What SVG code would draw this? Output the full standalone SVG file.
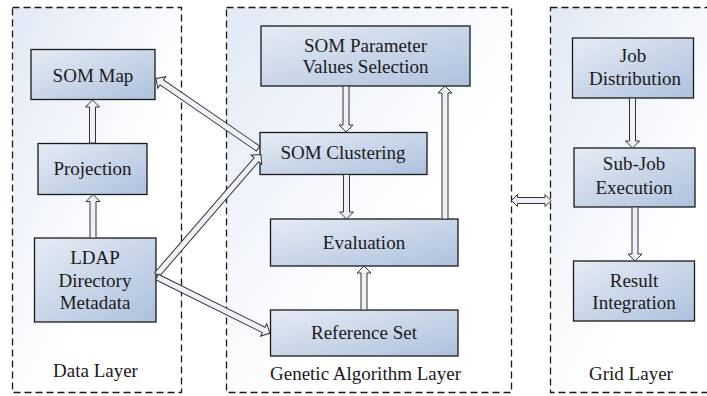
<svg xmlns="http://www.w3.org/2000/svg" width="707" height="396" viewBox="0 0 707 396">
<defs>
<linearGradient id="gLayer" x1="0" y1="0" x2="1" y2="1">
<stop offset="0" stop-color="#e2e9f5"/>
<stop offset="0.6" stop-color="#ffffff"/>
</linearGradient>
<linearGradient id="gNode" x1="0" y1="0" x2="1" y2="1">
<stop offset="0" stop-color="#e6ecf5"/>
<stop offset="1" stop-color="#adc1dd"/>
</linearGradient>
<style>
.layer{fill:url(#gLayer);stroke:#1a1a1a;stroke-width:1.3;stroke-dasharray:7 4}
.node{fill:url(#gNode);stroke:#1a1a1a;stroke-width:1.3}
.t{font-family:"Liberation Serif","Times New Roman",serif;font-size:19px;fill:#1a1a1a;text-anchor:middle}
.arr{fill:#eef2f8;stroke:#333;stroke-width:1}
</style>
</defs>
<rect width="707" height="396" fill="#ffffff"/>
<g id="data-layer">
<rect class="layer" x="12.5" y="7.5" width="169" height="385"/>
<text class="t" x="95.5" y="377">Data Layer</text>
</g>
<g id="ga-layer">
<rect class="layer" x="226.5" y="7.5" width="285" height="385"/>
<text class="t" x="365.5" y="380">Genetic Algorithm Layer</text>
</g>
<g id="grid-layer">
<rect class="layer" x="550.5" y="7.5" width="200" height="385"/>
<text class="t" x="631" y="380">Grid Layer</text>
</g>
<g id="som-map">
<rect class="node" x="31" y="49.5" width="124" height="50"/>
<text class="t" x="93" y="82">SOM Map</text>
</g>
<g id="projection">
<rect class="node" x="38" y="143.5" width="109" height="51"/>
<text class="t" x="92.5" y="175">Projection</text>
</g>
<g id="ldap">
<rect class="node" x="34.5" y="238" width="121.5" height="84"/>
<text class="t" x="95" y="264">LDAP</text>
<text class="t" x="95" y="286.5">Directory</text>
<text class="t" x="95" y="308.5">Metadata</text>
</g>
<g id="som-param">
<rect class="node" x="261" y="26" width="209" height="60"/>
<text class="t" x="365.5" y="51.5">SOM Parameter</text>
<text class="t" x="365.5" y="72.5">Values Selection</text>
</g>
<g id="som-clustering">
<rect class="node" x="260" y="132.5" width="167" height="42"/>
<text class="t" x="343" y="158.5">SOM Clustering</text>
</g>
<g id="evaluation">
<rect class="node" x="270.5" y="219" width="187.5" height="47"/>
<text class="t" x="364" y="248.5">Evaluation</text>
</g>
<g id="reference-set">
<rect class="node" x="270.5" y="310" width="187.5" height="46"/>
<text class="t" x="364" y="338.5">Reference Set</text>
</g>
<g id="job-distribution">
<rect class="node" x="572.5" y="38" width="121" height="60"/>
<text class="t" x="633" y="62">Job</text>
<text class="t" x="635" y="85">Distribution</text>
</g>
<g id="sub-job">
<rect class="node" x="574" y="148" width="121" height="59"/>
<text class="t" x="634" y="170">Sub-Job</text>
<text class="t" x="634" y="193.5">Execution</text>
</g>
<g id="result-integration">
<rect class="node" x="573.5" y="261" width="121" height="60"/>
<text class="t" x="634" y="286.5">Result</text>
<text class="t" x="634" y="308.5">Integration</text>
</g>
<g id="connectors">
<path class="arr" transform="translate(92.5,143) rotate(-90)" d="M0,-3 H36 V-7 L43,0 L36,7 V3 H0 Z"/>
<path class="arr" transform="translate(93,238) rotate(-90)" d="M0,-3 H36.5 V-7 L43.5,0 L36.5,7 V3 H0 Z"/>
<path class="arr" transform="translate(258,148.5) rotate(214.46)" d="M0,-3 H116.7 V-7 L123.7,0 L116.7,7 V3 H0 Z"/>
<path class="arr" transform="translate(157,274.5) rotate(-49.1)" d="M0,-3 H151.8 V-7 L158.8,0 L151.8,7 V3 H0 Z"/>
<path class="arr" transform="translate(157,277) rotate(26.4)" d="M0,-3 H119.1 V-7 L126.1,0 L119.1,7 V3 H0 Z"/>
<path class="arr" transform="translate(346,86) rotate(90)" d="M0,-3 H39 V-7 L46,0 L39,7 V3 H0 Z"/>
<path class="arr" transform="translate(346.5,174.5) rotate(90)" d="M0,-3 H37.5 V-7 L44.5,0 L37.5,7 V3 H0 Z"/>
<path class="arr" transform="translate(364,310) rotate(-90)" d="M0,-3 H37 V-7 L44,0 L37,7 V3 H0 Z"/>
<path class="arr" transform="translate(445,219) rotate(-90)" d="M0,-3 H126 V-7 L133,0 L126,7 V3 H0 Z"/>
<path class="arr" transform="translate(632.5,98) rotate(90)" d="M0,-3 H43 V-7 L50,0 L43,7 V3 H0 Z"/>
<path class="arr" transform="translate(635,207) rotate(90)" d="M0,-3 H47 V-7 L54,0 L47,7 V3 H0 Z"/>
<path class="arr" transform="translate(511.5,200.5)" d="M0,0 L6,-6 V-3 H33.5 V-6 L39.5,0 L33.5,6 V3 H6 V6 Z"/>
</g>
</svg>
